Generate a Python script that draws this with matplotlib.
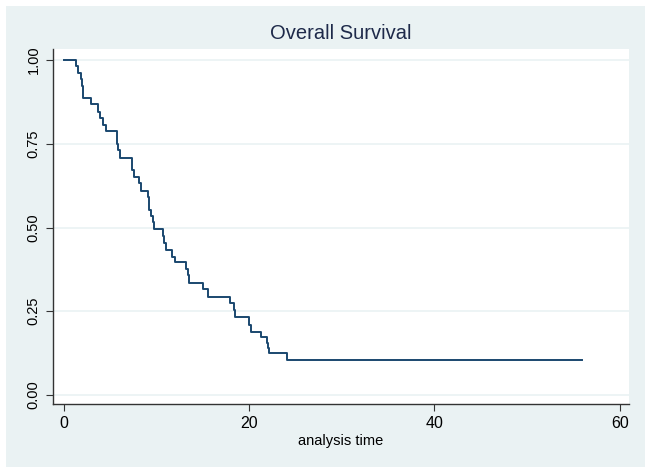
import matplotlib.pyplot as plt
from matplotlib.patches import Rectangle

# Kaplan-Meier steps: time of each drop and survival after it
times = [0, 1.33, 1.58, 1.85, 2.0, 2.05, 2.95, 3.67, 3.92, 4.27, 4.57, 5.72, 5.75,
         5.9, 6.08, 7.38, 7.59, 8.16, 8.38, 9.11, 9.17, 9.24, 9.42, 9.6, 9.78,
         10.68, 10.86, 11.04, 11.66, 12.01, 13.17, 13.45, 13.52, 15.07, 15.6,
         17.95, 18.4, 18.45, 20.03, 20.18, 21.3, 21.98, 22.1, 22.19, 24.13, 55.9]
surv = [1.0, 0.982, 0.960, 0.942, 0.923, 0.887, 0.868, 0.844, 0.826, 0.806, 0.788,
        0.768, 0.748, 0.731, 0.709, 0.672, 0.650, 0.632, 0.610, 0.591, 0.572,
        0.553, 0.535, 0.516, 0.497, 0.475, 0.454, 0.433, 0.413, 0.396, 0.375,
        0.358, 0.335, 0.316, 0.293, 0.274, 0.253, 0.232, 0.209, 0.189, 0.173,
        0.155, 0.141, 0.126, 0.105, 0.105]

xticks = [0, 20, 40, 60]
yticks = [0.0, 0.25, 0.5, 0.75, 1.0]
ylabels = ['0.00', '0.25', '0.50', '0.75', '1.00']

plt.rcParams['font.family'] = ['Liberation Sans', 'DejaVu Sans']

bg = '#EAF2F3'
navy = '#1A476F'

fig = plt.figure(figsize=(6.5, 4.74), dpi=100)
fig.patch.set_facecolor('white')
fig.patches.append(Rectangle((6 / 650, 7 / 474), 639 / 650, 461 / 474,
                             transform=fig.transFigure, facecolor=bg,
                             edgecolor='none', zorder=-10))

# axes box: x 53..629 px, y 49..404 px
ax = fig.add_axes([53 / 650, 70 / 474, 576 / 650, 355 / 474])
ax.set_facecolor('white')
ax.step(times, surv, where='post', color=navy, linewidth=1.4, zorder=3)

ax.set_xlim(-1.15, 61.0)
ax.set_ylim(-0.027, 1.033)
ax.set_xticks(xticks)
ax.set_yticks(yticks)
ax.set_yticklabels(ylabels, rotation=90, va='center')
ax.yaxis.grid(True, color=bg, linewidth=1.2)
ax.set_axisbelow(True)

for s in ['top', 'right']:
    ax.spines[s].set_visible(False)
for s in ['left', 'bottom']:
    ax.spines[s].set_color('#333333')
    ax.spines[s].set_linewidth(1.0)
ax.tick_params(direction='out', length=5, color='#333333',
               labelcolor='black', pad=4)
ax.tick_params(axis='x', labelsize=11.5)
ax.tick_params(axis='y', labelsize=10.5)

ax.set_xlabel('analysis time', fontsize=10.5, labelpad=2)
ax.set_title('Overall Survival', fontsize=14.5, color='#1E2A4A', pad=7)

plt.savefig('out.png', dpi=100, facecolor=fig.get_facecolor())
